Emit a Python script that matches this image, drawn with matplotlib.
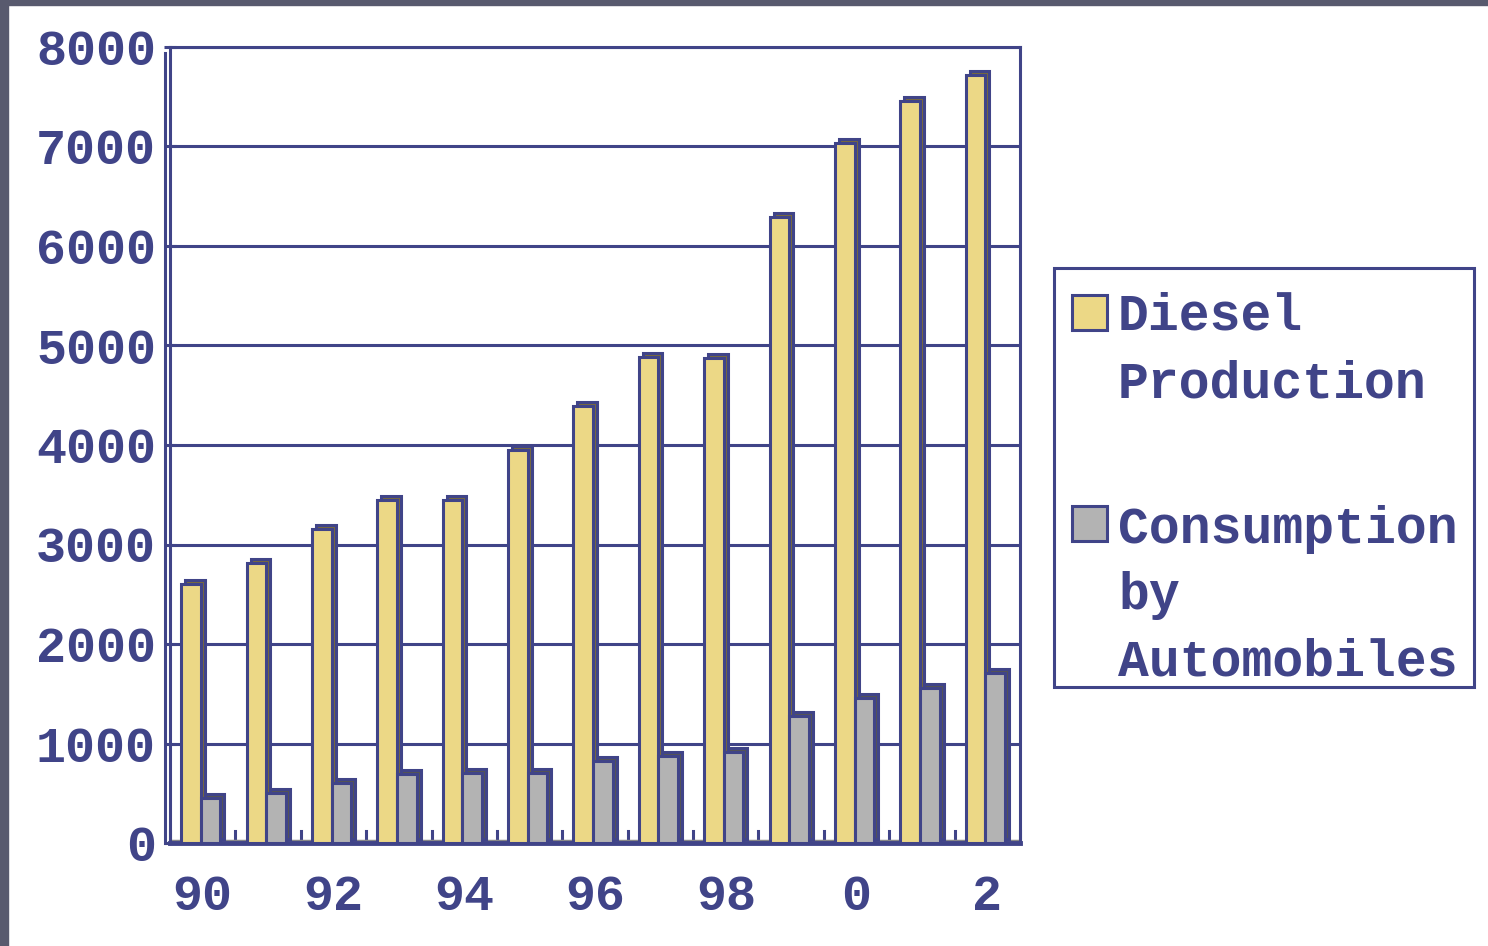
import matplotlib

matplotlib.use("Agg")
import matplotlib.pyplot as plt
import matplotlib.transforms as mtrans
from matplotlib.patches import Rectangle
import numpy as np

years = ["90", "91", "92", "93", "94", "95", "96", "97", "98", "99", "0", "1", "2"]
diesel_production = [2600, 2810, 3160, 3450, 3450, 3950, 4390, 4880, 4870, 6290, 7040, 7460, 7720]
auto_consumption = [450, 500, 600, 690, 700, 700, 820, 870, 910, 1280, 1460, 1560, 1710]
y_ticks = [0, 1000, 2000, 3000, 4000, 5000, 6000, 7000, 8000]
legend_lines = [["Diesel", "Production"], ["Consumption", "by", "Automobiles"]]

NAVY = "#404488"
YELLOW = "#ecd886"
YELLOW_DARK = "#786a3e"
GRAY = "#b3b3b3"
GRAY_DARK = "#555555"
FONT = "Liberation Mono"
W, H = 1488, 946

fig = plt.figure(figsize=(W / 100, H / 100), dpi=100)
fig.patch.set_facecolor("white")
# dark frame strip along the top and left edge
fig.add_artist(Rectangle((0, 1 - 5 / H), 1, 5 / H, transform=fig.transFigure,
                         color="#585a6e", zorder=0))
fig.add_artist(Rectangle((0, 0), 8 / W, 1, transform=fig.transFigure,
                         color="#585a6e", zorder=0))

ax = fig.add_axes([170 / W, 1 - 843 / H, 850 / W, 796 / H])
x = np.arange(len(years))
w = 0.3

# 3D look: shifted darker copy behind each bar
depth = mtrans.offset_copy(ax.transData, fig=fig, x=4, y=4, units="dots")
ax.bar(x - 0.18, diesel_production, w, color=YELLOW_DARK, edgecolor=NAVY,
       linewidth=2.2, transform=depth, zorder=2)
ax.bar(x - 0.18, diesel_production, w, color=YELLOW, edgecolor=NAVY,
       linewidth=2.2, zorder=3)
ax.bar(x + 0.12, auto_consumption, w, color=GRAY_DARK, edgecolor=NAVY,
       linewidth=2.2, transform=depth, zorder=4)
ax.bar(x + 0.12, auto_consumption, w, color=GRAY, edgecolor=NAVY,
       linewidth=2.2, zorder=5)

ax.set_xlim(-0.5, len(years) - 0.5)
ax.set_ylim(0, 8000)
ax.set_yticks(y_ticks)
ax.set_yticklabels([str(v) for v in y_ticks], fontsize=36, fontfamily=FONT,
                   fontweight="bold", color=NAVY)
ax.yaxis.grid(True, color=NAVY, linewidth=2.2)
ax.set_axisbelow(True)
ax.tick_params(axis="y", length=8, width=2.2, color=NAVY, pad=6, direction="inout")

ax.set_xticks(x[::2])
ax.set_xticklabels(years[::2], fontsize=36, fontfamily=FONT,
                   fontweight="bold", color=NAVY)
ax.tick_params(axis="x", length=0, pad=22)
# small marks between categories on the floor
for b in np.arange(-0.5, len(years), 1.0):
    ax.plot([b, b], [0, 120], color=NAVY, lw=2.2, zorder=1, clip_on=False)
ax.axhline(25, color="#888888", lw=2.5, zorder=1)

for side in ["top", "right", "left", "bottom"]:
    ax.spines[side].set_color(NAVY)
    ax.spines[side].set_linewidth(2.2)
ax.spines["bottom"].set_linewidth(3.5)
# second wall edge on the left
ax.plot([-0.58, -0.58], [0, 7940], color=NAVY, lw=2.2, clip_on=False, zorder=6)


def px(xp, yp):
    return xp / W, 1 - yp / H


# legend box drawn in pixel positions of the figure
fx, fy = px(1054, 687)
fig.add_artist(Rectangle((fx, fy), 420 / W, 419 / H, transform=fig.transFigure,
                         facecolor="white", edgecolor=NAVY, linewidth=2.2, zorder=5))
swatches = [(YELLOW, 330), (GRAY, 541)]
baselines = [[330, 398], [543, 609, 676]]
for (color, bottom), lines, bases in zip(swatches, legend_lines, baselines):
    sx, sy = px(1072, bottom)
    fig.add_artist(Rectangle((sx, sy), 35 / W, 35 / H, transform=fig.transFigure,
                             facecolor=color, edgecolor=NAVY, linewidth=2.2, zorder=6))
    for line, base in zip(lines, bases):
        tx, ty = px(1118, base)
        fig.text(tx, ty, line, fontsize=37, fontfamily=FONT, fontweight="bold",
                 color=NAVY, va="baseline", ha="left", zorder=7)

fig.savefig("out.png", dpi=100)
